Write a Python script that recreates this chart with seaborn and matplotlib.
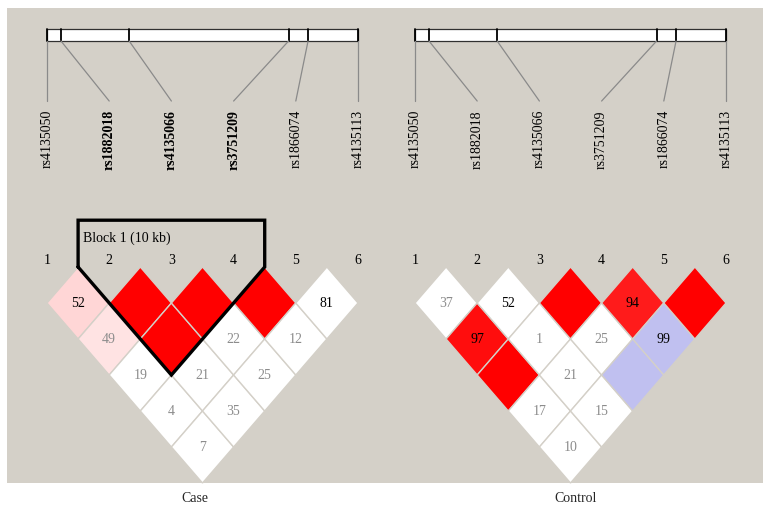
import numpy as np
import matplotlib.pyplot as plt
import seaborn as sns
from matplotlib.patches import Polygon, Rectangle

# marker info
snp_names = ["rs4135050", "rs1882018", "rs4135066", "rs3751209", "rs1866074", "rs4135113"]
snp_pos_kb = [0.0, 0.61, 3.6, 10.6, 11.45, 13.64]
case_bold = ["rs1882018", "rs4135066", "rs3751209"]

# pair order: (1,2),(1,3),(1,4),(1,5),(1,6),(2,3),...,(5,6)
case_dprime = [52, 49, 19, 4, 7, 100, 100, 21, 35, 100, 22, 25, 100, 12, 81]
case_lod_high = [1, 1, 0, 0, 0, 1, 1, 0, 0, 1, 0, 0, 1, 0, 0]
case_dark_text = [1, 0, 0, 0, 0, 0, 0, 0, 0, 0, 0, 0, 0, 0, 1]

control_dprime = [37, 97, 100, 17, 10, 52, 1, 21, 15, 100, 25, 100, 94, 99, 100]
control_lod_high = [0, 1, 1, 0, 0, 0, 0, 0, 0, 1, 0, 0, 1, 0, 1]
control_dark_text = [0, 1, 0, 0, 0, 1, 0, 0, 0, 0, 0, 0, 1, 1, 0]

case_block = [2, 4]
case_block_label = "Block 1 (10 kb)"

sns.set_theme(style="white")
plt.rcParams["font.family"] = ["Liberation Serif", "DejaVu Serif"]

bg = "#d4d0c8"
W, H = 772, 511
fig = plt.figure(figsize=(W / 100, H / 100), dpi=100)
fig.patch.set_facecolor("white")
fig.patches.append(Rectangle((7 / W, (H - 483) / H), 756 / W, 475 / H,
                             transform=fig.transFigure, facecolor=bg,
                             edgecolor="none", zorder=-10))

n = len(snp_names)
pairs = [(i, j) for i in range(1, n + 1) for j in range(i + 1, n + 1)]
sp = 62.2      # px per marker
row = 36.0     # px per row
top0 = 267.0   # px of row 0


def cell_color(d, lod):
    if d >= 99 and lod:
        return "#ff0000"
    if d >= 99 and not lod:
        return "#c0c0f0"
    if lod:
        v = min(255, (255 - 32) * 2 * (1 - d / 100)) / 255
        return (1.0, v, v)
    return "white"


def draw_panel(left_px, right_px, x0, dprime, lod, dark, bold_names, block):
    ax = fig.add_axes([left_px / W, 0, (right_px - left_px) / W, 1])
    ax.set_xlim(1 + (left_px - x0) / sp, 1 + (right_px - x0) / sp)
    ax.set_ylim((H - top0) / row, -top0 / row)
    ax.axis("off")
    ax.patch.set_alpha(0)

    # chromosome bar with marker ticks
    span = snp_pos_kb[-1] - snp_pos_kb[0]
    phys_x = [1 + (p - snp_pos_kb[0]) / span * (n - 1) for p in snp_pos_kb]
    ax.add_patch(Rectangle((1, -6.61), n - 1, 0.33, facecolor="white",
                           edgecolor="#303030", lw=0.9))
    for k, px in enumerate(phys_x):
        ax.plot([px, px], [-6.61, -6.28], color="black", lw=1.3)
        ax.plot([px, k + 1], [-6.28, -4.61], color="#8a8a8a", lw=0.9)
        ax.text(k + 1, -4.36, snp_names[k], rotation=90, ha="center", va="top",
                fontsize=10, color="black",
                fontweight="bold" if snp_names[k] in bold_names else "normal")

    # marker numbers
    for k in range(n):
        ax.text(k + 1, -0.19, str(k + 1), ha="center", va="center",
                fontsize=10, color="black")

    # LD diamonds
    for (i, j), d, l, dk in zip(pairs, dprime, lod, dark):
        cx, cy = (i + j) / 2, j - i
        verts = [(cx - 0.5, cy), (cx, cy - 1), (cx + 0.5, cy), (cx, cy + 1)]
        ax.add_patch(Polygon(verts, closed=True, facecolor=cell_color(d, l),
                             edgecolor=bg, lw=1.0, zorder=2))
        if d < 100:
            ax.text(cx, cy, str(d), ha="center", va="center", fontsize=10,
                    color="black" if dk else "#8c8c8c", zorder=3)

    # haplotype block outline
    if block is not None:
        a, b = block
        top = -1.3
        xs = [a - 0.5, a - 0.5, b + 0.5, b + 0.5, (a + b) / 2, a - 0.5]
        ys = [0, top, top, 0, b - a + 1, 0]
        ax.plot(xs, ys, color="black", lw=2.4, zorder=4,
                solid_joinstyle="miter")
        ax.text(a - 0.42, top + 0.5, case_block_label, ha="left",
                va="center", fontsize=10, color="black", zorder=4)
    return ax


draw_panel(0, 386, 47, case_dprime, case_lod_high, case_dark_text,
           case_bold, case_block)
draw_panel(386, 772, 415, control_dprime, control_lod_high, control_dark_text,
           [], None)

fig.text(195 / W, 1 - 498 / H, "Case", ha="center", va="center", fontsize=10)
fig.text(576 / W, 1 - 498 / H, "Control", ha="center", va="center", fontsize=10)

fig.savefig("out.png", dpi=100, facecolor="white")
